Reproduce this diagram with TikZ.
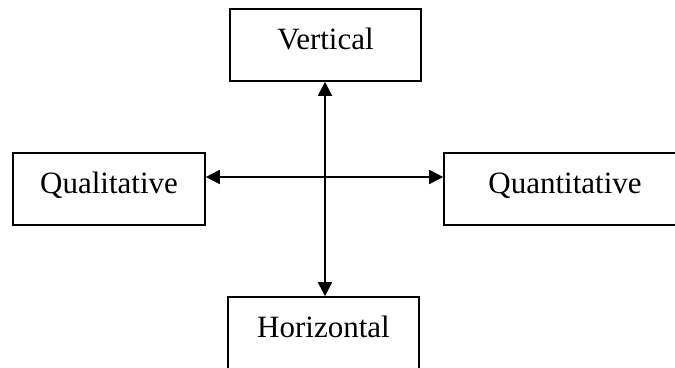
\documentclass[tikz,border=0pt]{standalone}
\usepackage{fontspec}
\setmainfont{Liberation Serif}
\usetikzlibrary{arrows.meta}

\begin{document}
\begin{tikzpicture}[x=1pt, y=-1pt]
\tikzset{
    box/.style={draw, line width=1.6pt, minimum height=72pt,
        text height=22pt, text depth=14pt, font=\fontsize{31}{36}\selectfont},
    link/.style={line width=1.6pt, {Triangle[length=14pt,width=14pt]}-{Triangle[length=14pt,width=14pt]}}
}
\useasboundingbox (0,0) rectangle (675,367);
\clip (0,0) rectangle (675,367);

% Top box
\node[box, minimum width=191pt] (vert) at (325.5,45) {Vertical};

% Bottom box
\node[box, minimum width=191pt] (horiz) at (323.5,333) {Horizontal};

% Left box
\node[box, minimum width=192pt] (qual) at (109,189) {Qualitative};

% Right box
\node[box, minimum width=242pt] (quant) at (565,189) {Quantitative};

% Crossing arrows
\coordinate (cross) at (325,177);
\draw[link] (vert.south -| cross) -- (horiz.north -| cross);
\draw[link] (qual.east |- cross) -- (quant.west |- cross);

\end{tikzpicture}
\end{document}
